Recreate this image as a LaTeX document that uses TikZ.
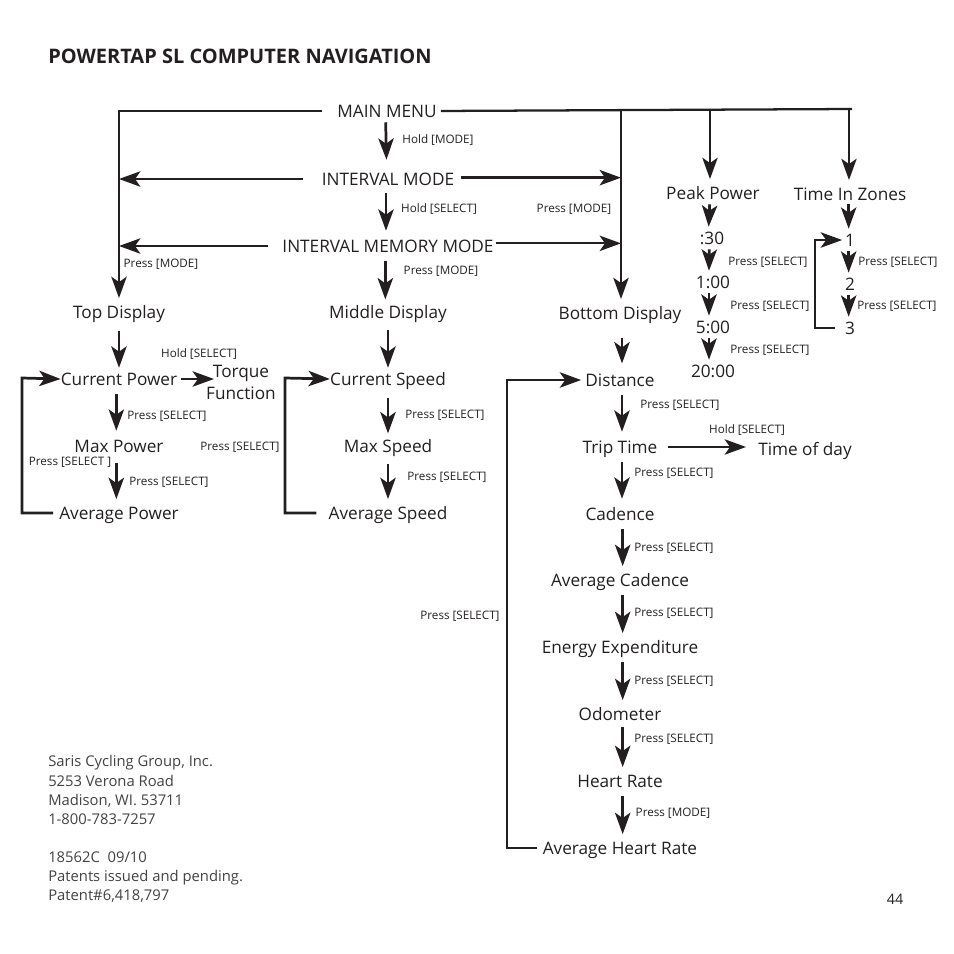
\documentclass[tikz,border=0pt]{standalone}
\usepackage{fontspec}
\setmainfont{Open Sans}
\usetikzlibrary{arrows.meta}
\definecolor{ink}{HTML}{231F20}
\tikzset{
  item/.style={font=\fontsize{12.9}{16.5}\selectfont,text=ink,inner sep=0pt,inner ysep=1.75pt,text height=11pt,text depth=2pt},
  hint/.style={font=\fontsize{8.75}{10}\selectfont,text=ink,inner sep=0pt,text height=7pt,text depth=0pt},
  addr/.style={font=\fontsize{11.1}{12}\selectfont,text=ink!85,inner sep=0pt,anchor=west,text height=8.5pt,text depth=0pt},
  flow/.style={draw=ink,line width=2.05pt,-{Stealth[length=16pt,width=11.5pt,inset=4pt]}},
  thinbar/.style={draw=ink,line width=1.7pt}
}
\begin{document}
\begin{tikzpicture}[x=0.75pt,y=-0.75pt]
\useasboundingbox (0,0) rectangle (954,954);
% Title
\draw (48,56) node[anchor=west,inner sep=0pt,text=ink,font=\fontsize{15}{16}\selectfont\bfseries] (title) {POWERTAP SL COMPUTER NAVIGATION};
% Menus
\draw (387,111) node[item] (main) {MAIN MENU};
\draw (388,179) node[item] (imode) {INTERVAL MODE};
\draw (388,246) node[item] (imem) {INTERVAL MEMORY MODE};
% Top column
\draw (119,312) node[item] (top) {Top Display};
\draw (119,379) node[item] (curpow) {Current Power};
\draw (119,446) node[item] (maxpow) {Max Power};
\draw (119,513) node[item] (avgpow) {Average Power};
\draw (241,382) node[font=\fontsize{12.9}{16.5}\selectfont,text=ink,inner sep=0pt,align=center] (torque) {Torque\\Function};
% Middle column
\draw (388,312) node[item] (mid) {Middle Display};
\draw (388,379) node[item] (curspd) {Current Speed};
\draw (388,446) node[item] (maxspd) {Max Speed};
\draw (388,513) node[item] (avgspd) {Average Speed};
% Bottom column
\draw (620,313) node[item] (bot) {Bottom Display};
\draw (620,380) node[item] (dist) {Distance};
\draw (620,447) node[item] (trip) {Trip Time};
\draw (805,449) node[item] (tod) {Time of day};
\draw (620,514) node[item] (cad) {Cadence};
\draw (620,580) node[item] (avgcad) {Average Cadence};
\draw (620,647) node[item] (energy) {Energy Expenditure};
\draw (620,714) node[item] (odo) {Odometer};
\draw (620,781) node[item] (hr) {Heart Rate};
\draw (620,848) node[item] (avghr) {Average Heart Rate};
% Peak power
\draw (713,193) node[item] (peak) {Peak Power};
\draw (712,238) node[item] (p30) {:30};
\draw (713,282) node[item] (p100) {1:00};
\draw (713,327) node[item] (p500) {5:00};
\draw (713,371) node[item] (p2000) {20:00};
% Zones
\draw (850,194) node[item] (zones) {Time In Zones};
\draw (850,240) node[item] (z1) {1};
\draw (850,284) node[item] (z2) {2};
\draw (850,328) node[item] (z3) {3};
% Trunk corners
\coordinate (tleft) at (119,111);
\coordinate (tbot) at (621,110);
\coordinate (tpeak) at (710,110);
\coordinate (tzone) at (849,109);
\coordinate (tend) at (852,109);
% Main links
\draw[flow,shorten <=11,shorten >=2] (main.west) -- (tleft) -- (top.north -| tleft);
\draw[thinbar,shorten <=3] (main.east) -- (tend);
\draw[flow,line width=1.7pt,shorten >=2] (tbot) -- (bot.north -| tbot);
\draw[flow,line width=1.7pt,shorten >=2] (tpeak) -- (peak.north -| tpeak);
\draw[flow,line width=1.7pt,shorten >=2] (tzone) -- (zones.north -| tzone);
\draw[flow,shorten >=6] ([xshift=-1]main.south) -- ([xshift=-1]imode.north);
\draw[flow,shorten <=2,shorten >=3] ([xshift=-1.5]imode.south) -- ([xshift=-1.5]imem.north);
\draw[flow,shorten <=3,shorten >=1] ([xshift=-2]imem.south) -- ([xshift=-2]mid.north);
\draw[flow,shorten <=14] (imode.west) -- (tleft |- imode);
\draw[flow,shorten <=5] ([yshift=1]imode.east) -- ([yshift=1]tbot |- imode);
\draw[flow,line width=1.7pt,shorten <=10.5] (imem.west) -- (tleft |- imem);
\draw[flow,line width=1.7pt,shorten <=2] ([yshift=2]imem.east) -- ([yshift=2]tbot |- imem);
% Top links
\draw[flow,shorten <=6] (top.south) -- (curpow.north);
\draw[flow,shorten <=3,shorten >=3] ([xshift=-2]curpow.south) -- ([xshift=-2]maxpow.north);
\draw[flow,shorten <=4,shorten >=2] ([xshift=-2]maxpow.south) -- ([xshift=-2]avgpow.north);
\draw[flow,shorten <=3,shorten >=-6] (curpow.east) -- (torque.west |- curpow);
\draw[flow,shorten <=4.5] (avgpow.west) -- (22,513) -- (22,378) -- (curpow.west);
% Middle links
\draw[flow,shorten <=5] (mid.south) -- (curspd.north);
\draw[flow,shorten <=6,shorten >=1] (curspd.south) -- (maxspd.north);
\draw[flow,shorten <=5,shorten >=2] (maxspd.south) -- (avgspd.north);
\draw[flow,shorten <=9] (avgspd.west) -- (285,513) -- (285,378) -- (curspd.west);
% Bottom links
\draw[flow,shorten <=10,shorten >=4] ([xshift=1.5]bot.south) -- ([xshift=1.5]dist.north);
\draw[flow,shorten <=3,shorten >=3] ([xshift=1.5]dist.south) -- ([xshift=1.5]trip.north);
\draw[flow,shorten <=3,shorten >=3] ([xshift=1.5]trip.south) -- ([xshift=1.5]cad.north);
\draw[flow,shorten <=3,shorten >=2] ([xshift=2]cad.south) -- ([xshift=2]avgcad.north);
\draw[flow,shorten <=3,shorten >=2] ([xshift=2]avgcad.south) -- ([xshift=2]energy.north);
\draw[flow,shorten <=3,shorten >=2] ([xshift=2]energy.south) -- ([xshift=2]odo.north);
\draw[flow,shorten <=1,shorten >=2] ([xshift=2]odo.south) -- ([xshift=2]hr.north);
\draw[flow,shorten <=3,shorten >=2] ([xshift=2]hr.south) -- ([xshift=2]avghr.north);
\draw[flow,line width=1.7pt,shorten <=7.5,shorten >=9] (trip.east) -- (tod.west |- trip);
\draw[flow,shorten <=4,shorten >=3] (avghr.west) -- (507,848) -- (507,380) -- (dist.west);
% Peak links
\draw[flow] ([xshift=-2.5]peak.south) -- ([xshift=-2.5]p30.north);
\draw[flow] ([xshift=-2]p30.south) -- ([xshift=-3]p100.north);
\draw[flow] ([xshift=-3]p100.south) -- ([xshift=-3]p500.north);
\draw[flow] ([xshift=-3]p500.south) -- ([xshift=-3]p2000.north);
% Zone links
\draw[flow,shorten <=-1] ([xshift=-1]zones.south) -- ([xshift=-1]z1.north);
\draw[flow] ([xshift=-1]z1.south) -- ([xshift=-1]z2.north);
\draw[flow] ([xshift=-1]z2.south) -- ([xshift=-1]z3.north);
\draw[flow,shorten <=7,shorten >=2] (z3.west) -- (815,328) -- (815,240) -- (z1.west);
% Hints
\draw (438,139) node[hint] (h1) {Hold [MODE]};
\draw (439,208) node[hint] (h2) {Hold [SELECT]};
\draw (574,208) node[hint] (h3) {Press [MODE]};
\draw (161,263) node[hint] (h4) {Press [MODE]};
\draw (441,270) node[hint] (h5) {Press [MODE]};
\draw (768,261) node[hint] (h6) {Press [SELECT]};
\draw (770,305) node[hint] (h7) {Press [SELECT]};
\draw (770,349) node[hint] (h8) {Press [SELECT]};
\draw (898,261) node[hint] (h9) {Press [SELECT]};
\draw (897,305) node[hint] (h10) {Press [SELECT]};
\draw (199,353) node[hint] (h11) {Hold [SELECT]};
\draw (167,415) node[hint] (h12) {Press [SELECT]};
\draw (240,446) node[hint] (h13) {Press [SELECT]};
\draw (70,461) node[hint] (h14) {Press [SELECT ]};
\draw (169,481) node[hint] (h15) {Press [SELECT]};
\draw (445,414) node[hint] (h16) {Press [SELECT]};
\draw (447,476) node[hint] (h17) {Press [SELECT]};
\draw (680,404) node[hint] (h18) {Press [SELECT]};
\draw (747,429) node[hint] (h19) {Hold [SELECT]};
\draw (674,472) node[hint] (h20) {Press [SELECT]};
\draw (674,547) node[hint] (h21) {Press [SELECT]};
\draw (674,612) node[hint] (h22) {Press [SELECT]};
\draw (674,680) node[hint] (h23) {Press [SELECT]};
\draw (674,738) node[hint] (h24) {Press [SELECT]};
\draw (673,812) node[hint] (h25) {Press [MODE]};
\draw (460,615) node[hint] (h26) {Press [SELECT]};
% Address
\draw (48,761) node[addr] (a1) {Saris Cycling Group, Inc.};
\draw (48,781) node[addr] (a2) {5253 Verona Road};
\draw (48,800) node[addr] (a3) {Madison, WI. 53711};
\draw (48,819) node[addr] (a4) {1-800-783-7257};
\draw (48,857) node[addr] (a5) {18562C\ \ 09/10};
\draw (48,876) node[addr] (a6) {Patents issued and pending.};
\draw (48,895) node[addr] (a7) {Patent\#6,418,797};
\draw (895,899) node[font=\fontsize{10.8}{12}\selectfont,text=ink,inner sep=0pt] (pg) {44};
\end{tikzpicture}
\end{document}
